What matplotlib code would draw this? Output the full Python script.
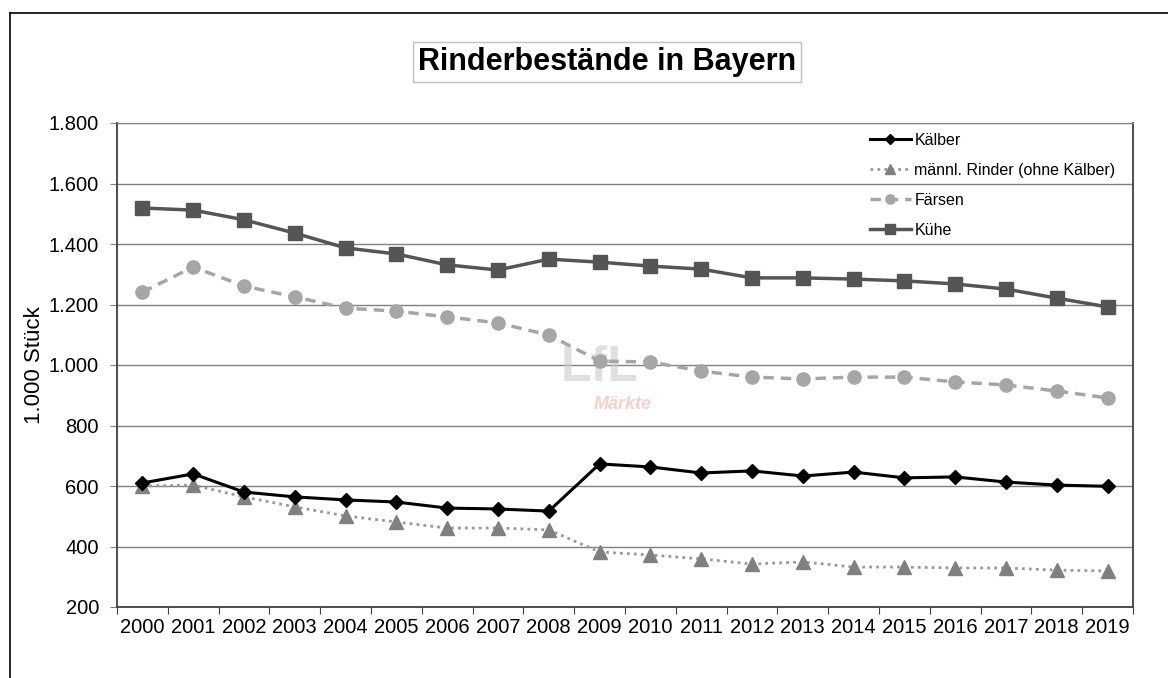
import matplotlib
matplotlib.use("Agg")
import matplotlib.pyplot as plt
from matplotlib.lines import Line2D

plt.rcParams['font.family'] = ['Liberation Sans', 'DejaVu Sans']

# Daten (1.000 Stück)
jahre = [str(j) for j in range(2000, 2020)]
kaelber = [610, 640, 580, 564, 554, 547, 527, 524, 517, 673,
           663, 643, 650, 633, 646, 627, 630, 613, 603, 599]
maennl_rinder = [600, 603, 564, 531, 501, 481, 461, 461, 455, 382,
                 372, 359, 342, 349, 332, 332, 329, 329, 322, 319]
faersen = [1241, 1324, 1261, 1225, 1188, 1178, 1159, 1139, 1099, 1013,
           1010, 980, 960, 954, 960, 960, 944, 934, 914, 891]
kuehe = [1519, 1512, 1480, 1436, 1387, 1367, 1331, 1314, 1350, 1340,
         1327, 1317, 1288, 1288, 1284, 1278, 1268, 1251, 1221, 1192]

fig = plt.figure(figsize=(11.68, 6.78), dpi=100)

# Rahmen um das Diagramm (läuft rechts/unten aus dem Bild)
fig.add_artist(Line2D([10/1168, 10/1168], [0, 1 - 13/678], color='black', lw=1.2))
fig.add_artist(Line2D([10/1168, 1], [1 - 13/678, 1 - 13/678], color='black', lw=1.2))

ax = fig.add_axes([117/1168, 1 - 607/678, (1133 - 117)/1168, (607 - 123)/678])
x = list(range(len(jahre)))

ax.plot(x, kaelber, color='black', lw=2.2, marker='D', ms=7.5, label='Kälber', zorder=5)
ax.plot(x, maennl_rinder, color='#999999', lw=2, ls=(0, (1, 1.5)), marker='^', ms=10,
        mfc='#808080', mec='#808080', label='männl. Rinder (ohne Kälber)', zorder=4)
ax.plot(x, faersen, color='#a6a6a6', lw=2.5, ls=(0, (3, 2)), marker='o', ms=9.5,
        mfc='#a6a6a6', mec='#a6a6a6', label='Färsen', zorder=4)
ax.plot(x, kuehe, color='#555555', lw=2.5, marker='s', ms=9.5, label='Kühe', zorder=4)

ax.set_ylim(200, 1800)
ax.set_yticks(range(200, 1801, 200))
ax.set_yticklabels([f'{v:,}'.replace(',', '.') for v in range(200, 1801, 200)])
ax.yaxis.grid(True, color='#808080', lw=1)
ax.set_axisbelow(True)

ax.set_xlim(-0.5, len(jahre) - 0.5)
ax.set_xticks([i - 0.5 for i in range(len(jahre) + 1)])
ax.set_xticklabels([])
ax.set_xticks(x, minor=True)
ax.set_xticklabels(jahre, minor=True)
ax.tick_params(axis='x', which='minor', length=0, pad=8, labelsize=14.5)
ax.tick_params(axis='x', which='major', length=5, color='#404040')
ax.tick_params(axis='y', length=5, color='#808080', labelsize=14.5, pad=8)

for s in ['left', 'bottom', 'right']:
    ax.spines[s].set_color('#404040')
    ax.spines[s].set_linewidth(1.3)
ax.spines['top'].set_color('#808080')

ax.set_ylabel('1.000 Stück', fontsize=16, labelpad=3)

# Wasserzeichen
ax.text(9.0, 990, 'LfL', fontsize=36, color='#cccccc', alpha=0.6,
        ha='center', va='center', fontweight='bold', zorder=1)
ax.text(9.45, 868, 'Märkte', fontsize=13, color='#f2a0a0', alpha=0.5,
        ha='center', va='center', style='italic', fontweight='bold', zorder=1)

leg = ax.legend(loc='upper right', bbox_to_anchor=(0.997, 1.01), frameon=False,
                fontsize=11.5, handlelength=2.6, handletextpad=0.2, labelspacing=0.95,
                markerscale=0.7)

fig.text(607/1168, 1 - 62/678, 'Rinderbestände in Bayern', fontsize=22,
         fontweight='bold', ha='center', va='center',
         bbox=dict(boxstyle='square,pad=0.15', fc='white', ec='#c0c0c0', lw=1))

fig.savefig('out.png', dpi=100)
